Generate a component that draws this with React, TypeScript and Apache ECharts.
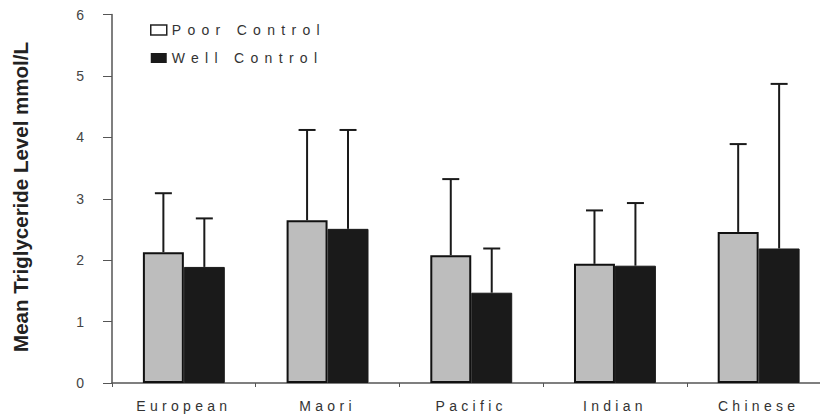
import React, { useEffect, useRef } from "react";
import * as echarts from "echarts";

const categories = ["European", "Maori", "Pacific", "Indian", "Chinese"];
const poorMean = [2.13, 2.65, 2.08, 1.94, 2.46];
const poorUpper = [3.09, 4.12, 3.32, 2.81, 3.89];
const wellMean = [1.89, 2.51, 1.47, 1.91, 2.19];
const wellUpper = [2.68, 4.12, 2.19, 2.93, 4.87];
const seriesNames = ["Poor Control", "Well Control"];
const yTicks = [0, 1, 2, 3, 4, 5, 6];

const FONT = "Arial, 'Liberation Sans', sans-serif";
const BAR_FRAC = 0.285;

function errorSeries(name: string, means: number[], uppers: number[], side: number) {
  return {
    type: "custom",
    name: name + " error",
    z: 5,
    silent: true,
    data: means.map((m, i) => [i, m, uppers[i]]),
    renderItem: (params: any, api: any) => {
      const idx = api.value(0);
      const base = api.coord([idx, api.value(1)]);
      const top = api.coord([idx, api.value(2)]);
      const band = api.size([1, 0])[0];
      const x = base[0] + side * band * BAR_FRAC / 2;
      const cap = 8.5;
      const style = { stroke: "#1a1a1a", lineWidth: 2 };
      return {
        type: "group",
        children: [
          { type: "line", shape: { x1: x, y1: base[1], x2: x, y2: top[1] }, style },
          { type: "line", shape: { x1: x - cap, y1: top[1], x2: x + cap, y2: top[1] }, style },
        ],
      };
    },
  };
}

export default function App() {
  const ref = useRef<HTMLDivElement>(null);
  useEffect(() => {
    document.body.style.margin = "0";
    document.body.style.overflow = "hidden";
    const el = ref.current!;
    const chart = echarts.init(el, null, { renderer: "svg" });
    chart.setOption({
      animation: false,
      backgroundColor: "#ffffff",
      grid: { left: 112, right: 9.5, top: 14.5, bottom: 33 },
      legend: {
        orient: "vertical",
        left: 150,
        top: 23,
        padding: 0,
        itemWidth: 16,
        itemHeight: 10,
        itemGap: 14,
        selectedMode: false,
        textStyle: { fontFamily: FONT, fontSize: 14, color: "#333" },
        data: [
          { name: seriesNames[0], icon: "rect", itemStyle: { color: "#ffffff", borderColor: "#222", borderWidth: 1.5 } },
          { name: seriesNames[1], icon: "rect", itemStyle: { color: "#1a1a1a", borderColor: "#1a1a1a", borderWidth: 0 } },
        ],
      },
      xAxis: {
        type: "category",
        data: categories,
        axisLine: { lineStyle: { color: "#555", width: 1.5 } },
        axisTick: { show: true, length: 4, lineStyle: { color: "#555" } },
        axisLabel: { fontFamily: FONT, fontSize: 14, color: "#333", margin: 16 },
      },
      yAxis: {
        type: "value",
        min: yTicks[0],
        max: yTicks[yTicks.length - 1],
        interval: 1,
        splitLine: { show: false },
        axisLine: { show: true, lineStyle: { color: "#555", width: 1.5 } },
        axisTick: { show: true, length: 9, lineStyle: { color: "#555" } },
        axisLabel: { fontFamily: FONT, fontSize: 14, color: "#444", margin: 28 },
      },
      graphic: [
        {
          type: "text",
          x: 20,
          y: 197,
          rotation: Math.PI / 2,
          style: {
            text: "Mean Triglyceride Level mmol/L",
            fontFamily: FONT,
            fontSize: 20.5,
            fontWeight: "bold",
            fill: "#222",
            align: "center",
            verticalAlign: "middle",
          },
        },
      ],
      series: [
        {
          type: "bar",
          name: seriesNames[0],
          data: poorMean,
          barWidth: BAR_FRAC * 100 + "%",
          barGap: "0%",
          silent: true,
          itemStyle: { color: "#bdbdbd", borderColor: "#111", borderWidth: 2 },
        },
        {
          type: "bar",
          name: seriesNames[1],
          data: wellMean,
          barWidth: BAR_FRAC * 100 + "%",
          barGap: "0%",
          silent: true,
          itemStyle: { color: "#1a1a1a", borderColor: "#1a1a1a", borderWidth: 1 },
        },
        errorSeries(seriesNames[0], poorMean, poorUpper, -1),
        errorSeries(seriesNames[1], wellMean, wellUpper, 1),
      ],
    });
    el.querySelectorAll("text").forEach((t) => {
      const s = t.textContent || "";
      if (categories.includes(s)) t.setAttribute("letter-spacing", "4.3");
      else if (seriesNames.includes(s)) t.setAttribute("letter-spacing", "6.3");
    });
    return () => chart.dispose();
  }, []);
  return <div ref={ref} style={{ position: "absolute", left: 0, top: 0, width: 840, height: 416 }} />;
}
